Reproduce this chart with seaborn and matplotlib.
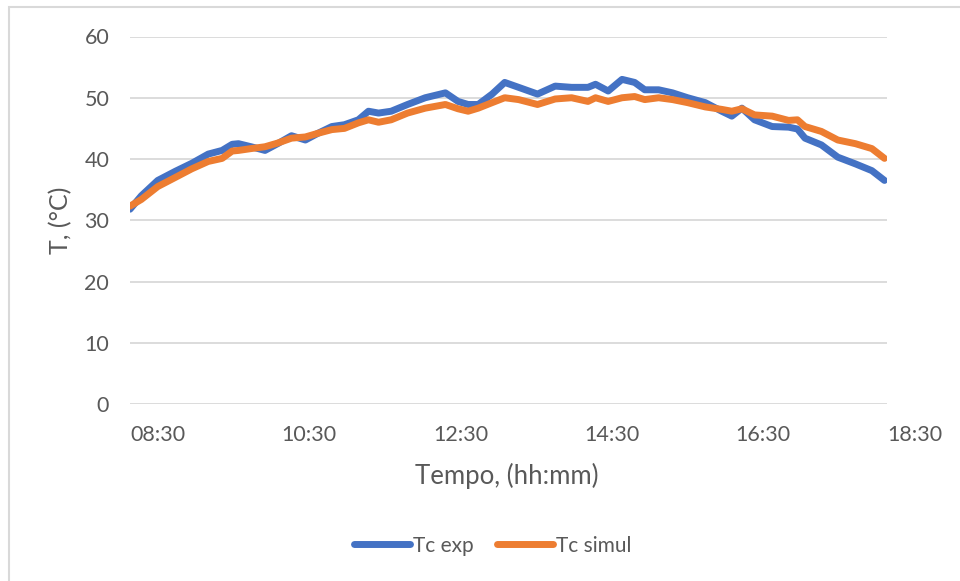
import matplotlib
matplotlib.use("Agg")
import matplotlib.pyplot as plt
from matplotlib.lines import Line2D
from matplotlib.patches import Rectangle
import seaborn as sns
import pandas as pd

# Measurement times (hh:mm)
times = ["08:30", "08:39", "08:52", "09:06", "09:19", "09:32", "09:43", "09:51", "09:56", "10:06",
         "10:17", "10:27", "10:38", "10:49", "10:59", "11:10", "11:20", "11:31", "11:39", "11:47",
         "11:57", "12:10", "12:24", "12:40", "12:50", "12:58", "13:06", "13:17", "13:27", "13:38",
         "13:53", "14:07", "14:20", "14:33", "14:39", "14:49", "15:00", "15:10", "15:18", "15:29",
         "15:40", "15:52", "16:06", "16:19", "16:27", "16:35", "16:45", "16:59", "17:12", "17:19",
         "17:25", "17:38", "17:51", "18:05", "18:18", "18:28"]

# Cell temperature, experimental (°C)
tc_exp = [31.8, 34.0, 36.5, 38.0, 39.3, 40.8, 41.4, 42.4, 42.5, 42.0,
          41.4, 42.5, 43.8, 43.1, 44.2, 45.3, 45.6, 46.4, 47.8, 47.5,
          47.8, 48.9, 50.0, 50.8, 49.4, 48.9, 48.9, 50.6, 52.5, 51.7,
          50.6, 51.9, 51.7, 51.7, 52.2, 51.1, 53.0, 52.5, 51.3, 51.3,
          50.8, 50.0, 49.2, 47.8, 47.0, 48.3, 46.4, 45.3, 45.2, 44.9,
          43.4, 42.3, 40.3, 39.2, 38.1, 36.5]

# Cell temperature, simulated (°C)
tc_simul = [32.3, 33.4, 35.5, 37.0, 38.4, 39.6, 40.1, 41.3, 41.4, 41.7,
            42.0, 42.6, 43.4, 43.6, 44.2, 44.8, 45.0, 45.9, 46.4, 46.0,
            46.4, 47.5, 48.3, 48.9, 48.2, 47.8, 48.3, 49.2, 50.0, 49.7,
            48.9, 49.8, 50.0, 49.4, 50.0, 49.4, 50.0, 50.2, 49.7, 50.0,
            49.7, 49.2, 48.5, 48.1, 47.8, 48.2, 47.2, 47.0, 46.3, 46.4,
            45.3, 44.5, 43.1, 42.5, 41.7, 40.1]

series_names = ["Tc exp", "Tc simul"]
colors = ["#4472C4", "#ED7D31"]
x_ticklabels = ["08:30", "10:30", "12:30", "14:30", "16:30", "18:30"]
y_ticks = [0, 10, 20, 30, 40, 50, 60]


def to_hours(s):
    h, m = s.split(":")
    return int(h) + int(m) / 60.0


hours = [to_hours(t) for t in times]
df = pd.DataFrame({
    "hora": hours * 2,
    "T": tc_exp + tc_simul,
    "serie": [series_names[0]] * len(hours) + [series_names[1]] * len(hours),
})

sns.set_theme(style="white")
plt.rcParams["font.family"] = ["Lato", "DejaVu Sans"]
text_color = "#595959"
grid_color = "#D9D9D9"

fig = plt.figure(figsize=(9.6, 5.81), dpi=100)
ax = fig.add_axes([130 / 960, 1 - 404 / 581, (887 - 130) / 960, (404 - 36.5) / 581])

sns.lineplot(data=df, x="hora", y="T", hue="serie", hue_order=series_names,
             palette=colors, linewidth=5.0, ax=ax, legend=False, sort=False)
for ln in ax.lines:
    ln.set_solid_capstyle("round")
    ln.set_solid_joinstyle("round")

ax.set_xlim(8.5, 18.5)
ax.set_ylim(0, 60)
x_ticks = [to_hours(s) for s in x_ticklabels]
ax.set_xticks(x_ticks)
ax.set_xticklabels(x_ticklabels, ha="left")
ax.set_yticks(y_ticks)
ax.set_yticklabels([str(v) for v in y_ticks])
ax.tick_params(axis="both", length=0, labelsize=15.5, colors=text_color)
ax.tick_params(axis="y", pad=15)
ax.tick_params(axis="x", pad=15)

ax.yaxis.grid(True, color=grid_color, linewidth=1.3)
ax.xaxis.grid(False)
ax.set_axisbelow(True)
for sp in ax.spines.values():
    sp.set_visible(False)

ax.set_xlabel("Tempo, (hh:mm)", fontsize=18.5, color=text_color)
ax.set_ylabel("T, (°C)", fontsize=18, color=text_color)
ax.xaxis.label.set_va("center")
ax.yaxis.label.set_va("center")
ax.xaxis.set_label_coords((507 - 130) / 757, (404 - 476) / 367.5)
ax.yaxis.set_label_coords((61 - 130) / 757, (404 - 220) / 367.5)

# Chart frame (left and top edges visible)
fig.patches.append(Rectangle((9 / 960, -0.05), 1.2, 1 - 7 / 581 + 0.05,
                             transform=fig.transFigure, fill=False,
                             edgecolor=grid_color, linewidth=1.5))

handles = [Line2D([0], [0], color=c, linewidth=5.0, solid_capstyle="round") for c in colors]
fig.legend(handles, series_names, loc="center", bbox_to_anchor=(493 / 960, 1 - 545.7 / 581),
           ncol=2, frameon=False, fontsize=15, handlelength=2.7, handletextpad=0.15,
           columnspacing=1.1, labelcolor=text_color)

fig.savefig("out.png", dpi=100)
